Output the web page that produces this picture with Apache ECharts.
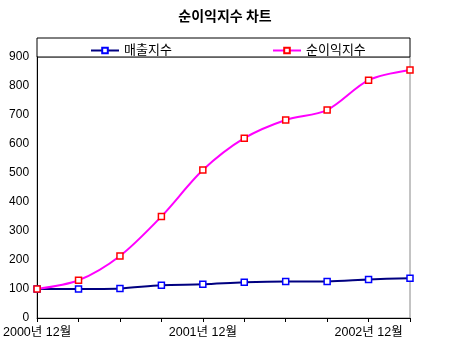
<!DOCTYPE html>
<html><head><meta charset="utf-8">
<script src="https://cdn.jsdelivr.net/npm/echarts@6/dist/echarts.min.js"></script>
<style>html,body{margin:0;padding:0;background:#fff}#c{width:450px;height:350px}</style>
</head><body><div id="c"></div>
<script>
const categories = ['2000년 12월','2001년 3월','2001년 6월','2001년 9월','2001년 12월','2002년 3월','2002년 6월','2002년 9월','2002년 12월','2003년 3월'];
const salesIndex = [100, 100, 102, 113, 116, 123, 126, 126, 133, 137];
const profitIndex = [100, 130, 214, 350, 510, 620, 683, 717, 820, 855];
const yTicks = [0,100,200,300,400,500,600,700,800,900];
const shownLabels = ['2000년 12월','2001년 12월','2002년 12월'];
const FONT = '"Liberation Sans", "Noto Sans CJK KR", sans-serif';

const chart = echarts.init(document.getElementById('c'), null, {renderer:'canvas'});
chart.setOption({
  animation:false,
  backgroundColor:'#fff',
  title:{text:'순이익지수 차트', left:'center', top:4,
    textStyle:{fontFamily:'"Noto Sans CJK KR", sans-serif', fontSize:14, fontWeight:'bold', color:'#000'}},
  graphic:[{type:'rect', shape:{x:37, y:38, width:373, height:19},
    style:{fill:'#fff', stroke:'#000', lineWidth:1}, z:0}],
  legend:[
    {data:['매출지수'], left:85, top:39, itemWidth:28, itemHeight:7, itemGap:3,
     textStyle:{fontFamily:FONT, fontSize:13, color:'#000'}},
    {data:['순이익지수'], left:267, top:39, itemWidth:28, itemHeight:7, itemGap:3,
     textStyle:{fontFamily:FONT, fontSize:13, color:'#000'}}
  ],
  grid:{left:37, right:40, top:57, bottom:32, show:true, borderColor:'#888', borderWidth:1},
  xAxis:{type:'category', data:categories, boundaryGap:false,
    axisLine:{lineStyle:{color:'#000'}},
    axisTick:{show:true, interval:0, length:4, lineStyle:{color:'#000'}},
    axisLabel:{interval:0, margin:8, color:'#000', fontFamily:FONT, fontSize:12.5,
      formatter:v=>shownLabels.includes(v)?v:''},
    splitLine:{show:false}},
  yAxis:{type:'value', min:0, max:900, interval:100,
    axisLine:{show:true, lineStyle:{color:'#000'}},
    axisTick:{show:false},
    axisLabel:{color:'#000', fontFamily:FONT, fontSize:12, margin:8,
      formatter:v=>yTicks.includes(v)?String(v):''},
    splitLine:{show:false}},
  series:[
    {name:'매출지수', type:'line', data:salesIndex, smooth:0.3,
     symbol:'rect', symbolSize:6, showAllSymbol:true,
     lineStyle:{color:'#000080', width:2},
     itemStyle:{color:'#fff', borderColor:'#0000ff', borderWidth:1.5}, z:3},
    {name:'순이익지수', type:'line', data:profitIndex, smooth:0.3,
     symbol:'rect', symbolSize:6, showAllSymbol:true,
     lineStyle:{color:'#ff00ff', width:2},
     itemStyle:{color:'#fff', borderColor:'#ff0000', borderWidth:1.5}, z:4}
  ]
});
</script></body></html>
